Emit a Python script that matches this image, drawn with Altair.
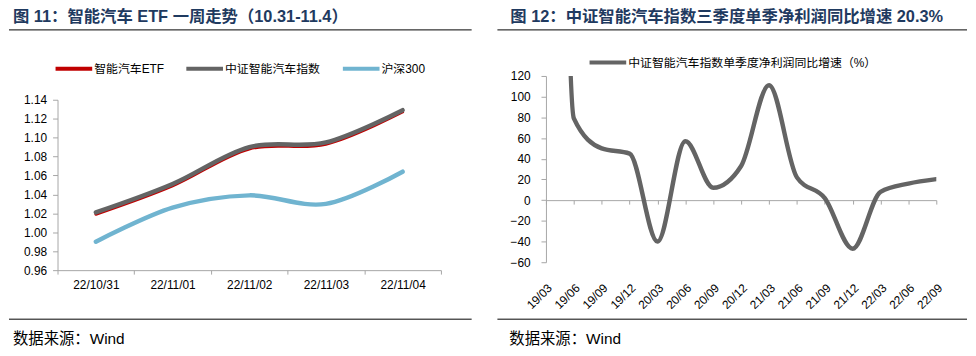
import altair as alt
import pandas as pd

# ---------------- data: left panel ----------------
dates = ["22/10/31", "22/11/01", "22/11/02", "22/11/03", "22/11/04"]
etf = [1.019, 1.049, 1.088, 1.093, 1.127]
index_vals = [1.021, 1.051, 1.090, 1.095, 1.129]
hs300 = [0.990, 1.026, 1.039, 1.030, 1.064]
left_series = ["智能汽车ETF", "中证智能汽车指数", "沪深300"]
left_colors = ["#C00000", "#646464", "#70B4D0"]
left_ticks = [0.96, 0.98, 1.00, 1.02, 1.04, 1.06, 1.08, 1.10, 1.12, 1.14]

# ---------------- data: right panel ----------------
quarters = ["19/03", "19/06", "19/09", "19/12", "20/03", "20/06", "20/09", "20/12",
            "21/03", "21/06", "21/09", "21/12", "22/03", "22/06", "22/09"]
growth = [2000, 79, 50, 45, -40, 57, 12, 33, 111, 22, 2, -47, 8, 16, 20.3]
right_series = ["中证智能汽车指数单季度净利润同比增速（%）"]
right_colors = ["#646464"]
right_ticks = [-60, -40, -20, 0, 20, 40, 60, 80, 100, 120]

title_left = "图 11：智能汽车 ETF 一周走势（10.31-11.4）"
title_right = "图 12：中证智能汽车指数三季度单季净利润同比增速 20.3%"
source_text = "数据来源：Wind"

FONT = "Liberation Sans, Noto Sans CJK SC"
GRAY = "#A6A6A6"
TITLE_COLOR = "#1F3A60"

W1, H1 = 387, 196
W2, H2 = 394, 188

left_df = pd.DataFrame({
    "date": dates * 3,
    "value": etf + index_vals + hs300,
    "series": [s for s in left_series for _ in dates],
})
right_df = pd.DataFrame({"q": quarters, "v": growth, "series": right_series * len(quarters)})


def deco_layers(title, tx, ty, rx1, rx2, rtop, rbot, fx, fy):
    one = pd.DataFrame({"t": [title], "f": [source_text]})
    t = alt.Chart(one).mark_text(align="left", baseline="top", font=FONT, fontSize=16.5,
                                 fontWeight="bold", color=TITLE_COLOR).encode(
        text="t:N", x=alt.value(tx), y=alt.value(ty))
    r1 = alt.Chart(one).mark_rule(color="#000000", strokeWidth=1).encode(
        x=alt.value(rx1), x2=alt.value(rx2), y=alt.value(rtop))
    r2 = alt.Chart(one).mark_rule(color="#000000", strokeWidth=1).encode(
        x=alt.value(rx1), x2=alt.value(rx2), y=alt.value(rbot))
    f = alt.Chart(one).mark_text(align="left", baseline="middle", font=FONT, fontSize=15.5,
                                 color="#000000").encode(
        text="f:N", x=alt.value(fx), y=alt.value(fy))
    return [t, r1, r2, f]


def legend(x, y):
    return alt.Legend(title=None, orient="none", legendX=x, legendY=y, direction="horizontal",
                      symbolType="stroke", symbolSize=1369, symbolStrokeWidth=4,
                      labelFont=FONT, labelFontSize=12, labelColor="#000000", labelLimit=400,
                      labelOffset=0, columnPadding=14, padding=0)


# ---------------- left chart ----------------
xl = alt.X("date:N", sort=dates, bandPosition=0.5,
           scale=alt.Scale(type="band", paddingInner=0, paddingOuter=0),
           axis=alt.Axis(title=None, labelAngle=0, tickBand="extent", tickSize=4, labelPadding=6,
                         domainColor=GRAY, tickColor=GRAY, labelFont=FONT, labelFontSize=12,
                         labelColor="#000000", grid=False))
yl = alt.Y("value:Q", scale=alt.Scale(domain=[0.96, 1.14], zero=False, nice=False, range=[H1, 24]),
           axis=alt.Axis(title=None, values=left_ticks, format=".2f", tickSize=5, labelPadding=6,
                         domainColor=GRAY, tickColor=GRAY, labelFont=FONT, labelFontSize=12,
                         labelColor="#000000", grid=False))
cl = alt.Color("series:N", scale=alt.Scale(domain=left_series, range=left_colors),
               legend=legend(-4, -28))

base_l = alt.Chart(left_df)
etf_layer = base_l.transform_filter(alt.datum.series == left_series[0]).mark_line(
    strokeWidth=3, interpolate="cardinal", strokeCap="round").encode(xl, yl, cl)
other_layer = base_l.transform_filter(alt.datum.series != left_series[0]).mark_line(
    strokeWidth=4.5, interpolate="cardinal", strokeCap="round").encode(xl, yl, cl)

left = alt.layer(
    etf_layer, other_layer,
    *deco_layers(title_left, -45, -67, -49, 418, -46.5, 245.5, -45, 266)
).properties(width=W1, height=H1)

# ---------------- right chart ----------------
xr_zero = alt.X("q:N", sort=quarters, scale=alt.Scale(type="point", padding=0),
                axis=alt.Axis(title=None, orient="bottom", offset=-H2 / 3, labels=False,
                              tickSize=4, domainColor=GRAY, tickColor=GRAY, grid=False))
xr_lab = alt.X("q:N", sort=quarters, scale=alt.Scale(type="point", padding=0),
               axis=alt.Axis(title=None, orient="bottom", domain=False, ticks=False, tickSize=0,
                             labelAngle=-45, labelPadding=20, labelFont=FONT, labelFontSize=12,
                             labelColor="#000000", grid=False))
yr = alt.Y("v:Q", scale=alt.Scale(domain=[-60, 120], zero=False, nice=False),
           axis=alt.Axis(title=None, values=right_ticks, format="d", tickSize=5, labelPadding=11,
                         domainColor=GRAY, tickColor=GRAY, labelFont=FONT, labelFontSize=12,
                         labelColor="#000000", grid=False))
cr = alt.Color("series:N", scale=alt.Scale(domain=right_series, range=right_colors),
               legend=legend(42, -34))

base_r = alt.Chart(right_df)
line_r = base_r.mark_line(strokeWidth=4.5, interpolate="monotone", clip=True,
                          strokeCap="round").encode(xr_zero, yr, cr)
lab_r = base_r.mark_point(opacity=0).encode(xr_lab, y=alt.value(0))

right = alt.layer(
    line_r, lab_r,
    *deco_layers(title_right, -36, -67, -49, 425, -46.5, 245.5, -37, 266)
).resolve_axis(x="independent").properties(width=W2, height=H2)

chart = alt.hconcat(left, right, spacing=24).resolve_scale(color="independent").configure(
    padding=0).configure_view(stroke=None)

chart.save("out.html", embed_options={"renderer": "svg", "actions": False})
